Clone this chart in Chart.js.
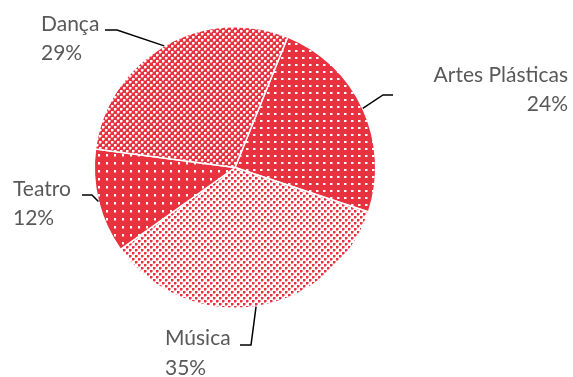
<!DOCTYPE html>
<html>
<head>
<meta charset="utf-8">
<script src="https://cdn.jsdelivr.net/npm/chart.js@4"></script>
<style>
  body { margin: 0; background: #fff; }
</style>
</head>
<body>
<canvas id="pie" width="573" height="377"></canvas>
<script>
// data
const categories = ["Artes Plásticas", "Música", "Teatro", "Dança"];
const shares = [24, 35, 12, 29];

const RED = "rgb(232,50,64)";
const PINK = "rgb(244,150,158)";

// little tiles for the dotted fills
function makeTile(size, bg, draw) {
  const c = document.createElement("canvas");
  c.width = size; c.height = size;
  const g = c.getContext("2d");
  g.fillStyle = bg;
  g.fillRect(0, 0, size, size);
  draw(g);
  return g.createPattern(c, "repeat");
}

const sparseDots = makeTile(7, RED, g => {
  g.fillStyle = "#fff";
  g.fillRect(1, 1, 2, 2);
  g.fillStyle = PINK;
  g.fillRect(3, 1, 1, 2);
});
const lightLattice = makeTile(6, "#fff", g => {
  g.fillStyle = RED;
  g.fillRect(0, 0, 2, 2);
  g.fillRect(3, 3, 2, 2);
  g.fillStyle = PINK;
  g.fillRect(2, 0, 1, 2);
  g.fillRect(0, 2, 2, 1);
  g.fillRect(5, 3, 1, 2);
  g.fillRect(3, 5, 2, 1);
});
const columnDots = makeTile(8, RED, g => {
  g.fillStyle = "#fff";
  g.fillRect(2, 2, 2, 2);
  g.fillStyle = PINK;
  g.fillRect(2, 4, 2, 1);
});
const redLattice = makeTile(6, RED, g => {
  g.fillStyle = "#fff";
  g.fillRect(0, 0, 2, 2);
  g.fillRect(3, 3, 2, 2);
  g.fillStyle = PINK;
  g.fillRect(2, 0, 1, 2);
  g.fillRect(0, 2, 2, 1);
  g.fillRect(5, 3, 1, 2);
  g.fillRect(3, 5, 2, 1);
});
const fills = [sparseDots, lightLattice, columnDots, redLattice];

// label placement: text anchor, line baselines, elbow and tail of the leader
const labelLayout = [
  { x: 568, align: "right", y1: 82, y2: 111, elbow: [383, 95], tail: [393, 95] },
  { x: 165, align: "left", y1: 345, y2: 375, elbow: [251, 345], tail: [240, 345] },
  { x: 13, align: "left", y1: 196, y2: 225, elbow: [92, 195], tail: [82, 195] },
  { x: 41, align: "left", y1: 31, y2: 60, elbow: [117, 30], tail: [105, 30] }
];

const calloutLabels = {
  id: "calloutLabels",
  afterDatasetsDraw(chart) {
    const ctx = chart.ctx;
    const meta = chart.getDatasetMeta(0);
    const total = shares.reduce((a, b) => a + b, 0);
    ctx.save();
    meta.data.forEach((arc, i) => {
      const p = arc.getProps(["x", "y", "startAngle", "endAngle", "outerRadius"], true);
      const mid = (p.startAngle + p.endAngle) / 2;
      const ex = p.x + Math.cos(mid) * p.outerRadius;
      const ey = p.y + Math.sin(mid) * p.outerRadius;
      const L = labelLayout[i];
      ctx.strokeStyle = "#000";
      ctx.lineWidth = 1.5;
      ctx.beginPath();
      ctx.moveTo(L.tail[0], L.tail[1]);
      ctx.lineTo(L.elbow[0], L.elbow[1]);
      ctx.lineTo(ex, ey);
      ctx.stroke();

      ctx.fillStyle = "#595959";
      ctx.font = "21px Lato";
      ctx.textAlign = L.align;
      ctx.textBaseline = "alphabetic";
      ctx.fillText(categories[i], L.x, L.y1);
      ctx.fillText(Math.round(shares[i] / total * 100) + "%", L.x, L.y2);
    });
    ctx.restore();
  }
};

new Chart(document.getElementById("pie"), {
  type: "pie",
  data: {
    labels: categories,
    datasets: [{
      data: shares,
      backgroundColor: fills,
      borderColor: "#fff",
      borderWidth: 1.5
    }]
  },
  options: {
    responsive: false,
    animation: false,
    rotation: 22,
    layout: { padding: { left: 93, right: 196, top: 26, bottom: 68 } },
    plugins: {
      legend: { display: false },
      tooltip: { enabled: false }
    }
  },
  plugins: [calloutLabels]
});
</script>
</body>
</html>
